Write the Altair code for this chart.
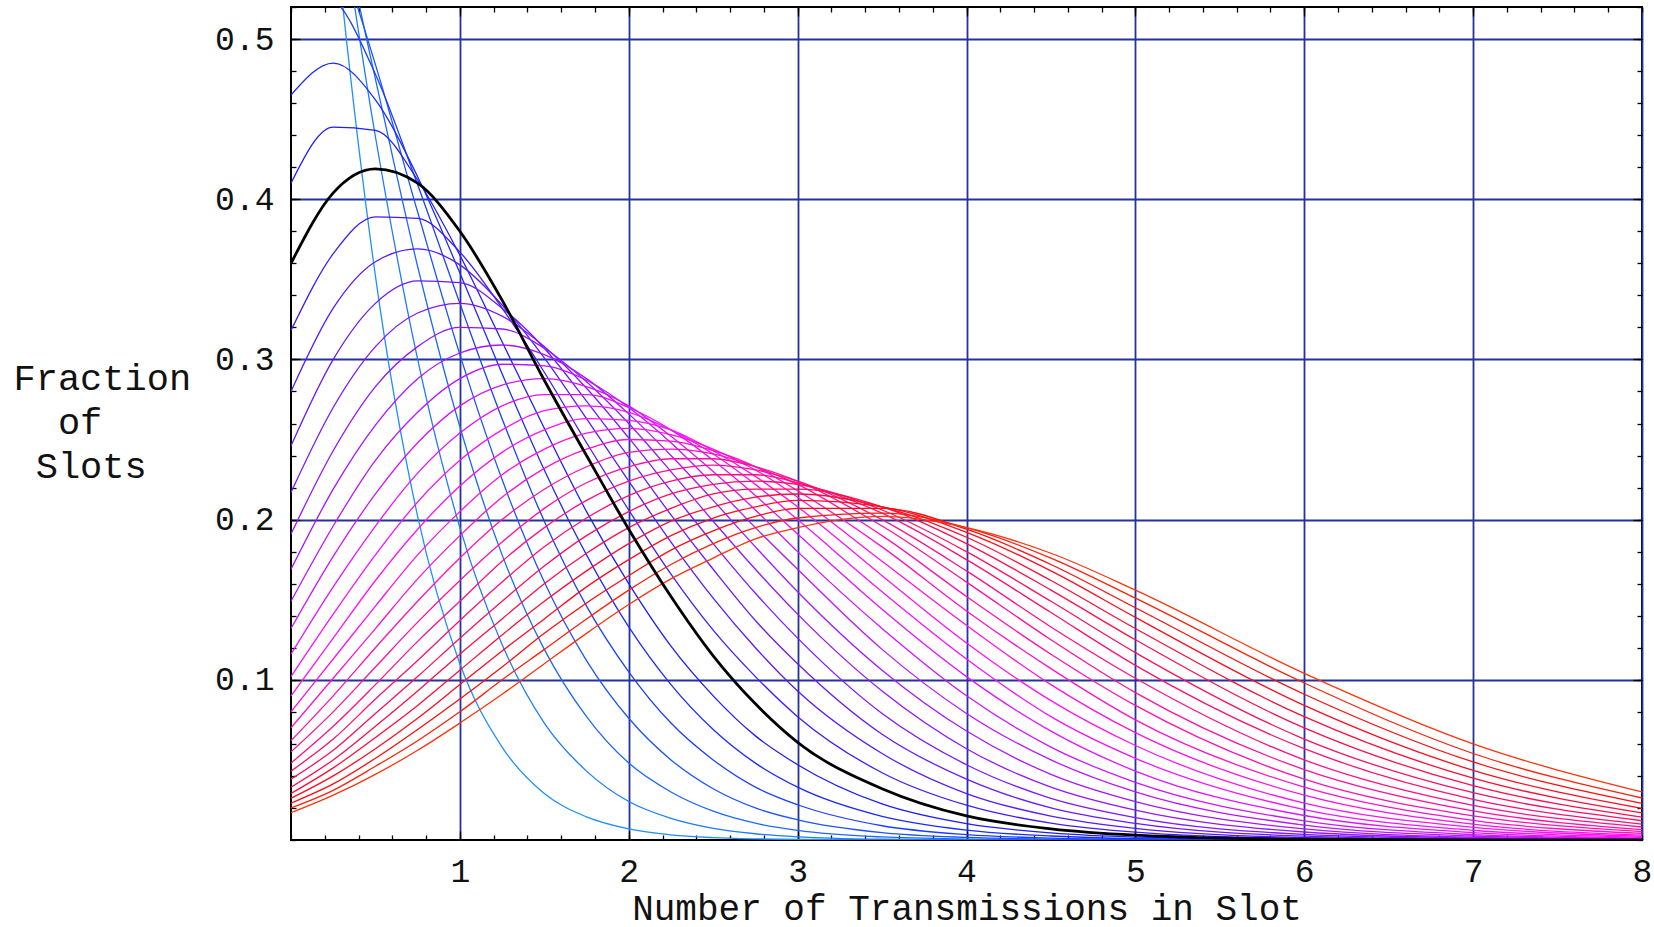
import altair as alt
import pandas as pd

# x positions at which the curves were read
x_values = [0, 0.25, 0.5, 0.75, 1, 1.25, 1.5, 1.75, 2, 2.25, 2.5, 2.75, 3, 3.5, 4, 4.5, 5, 6, 7, 8]

# mean number of transmissions per slot for each curve
lambdas = [0.125, 0.25, 0.375, 0.5, 0.625, 0.75, 0.875, 1.0,
           1.125, 1.25, 1.375, 1.5, 1.625, 1.75, 1.875, 2.0,
           2.125, 2.25, 2.375, 2.5, 2.625, 2.75, 2.875, 3.0,
           3.125, 3.25, 3.375, 3.5, 3.625, 3.75, 3.875, 4.0]

c_0125 = [0.883, 0.579, 0.352, 0.202, 0.110, 0.058, 0.029, 0.0144, 0.0069, 0.0032, 0.0015, 0.0007, 0.0003, 0.0001, 0, 0, 0, 0, 0, 0]
c_0250 = [0.779, 0.608, 0.439, 0.300, 0.195, 0.122, 0.073, 0.043, 0.024, 0.0135, 0.0073, 0.0039, 0.0020, 0.0005, 0.0001, 0, 0, 0, 0, 0]
c_0375 = [0.687, 0.593, 0.475, 0.358, 0.258, 0.178, 0.119, 0.077, 0.048, 0.030, 0.018, 0.0105, 0.0060, 0.0019, 0.0006, 0.0002, 0, 0, 0, 0]
c_0500 = [0.607, 0.563, 0.484, 0.392, 0.303, 0.225, 0.161, 0.112, 0.076, 0.050, 0.032, 0.020, 0.0126, 0.0046, 0.0016, 0.0005, 0.0002, 0, 0, 0]
c_0625 = [0.535, 0.525, 0.478, 0.409, 0.335, 0.263, 0.199, 0.146, 0.105, 0.073, 0.050, 0.033, 0.022, 0.0089, 0.0034, 0.0012, 0.0004, 0, 0, 0]
c_0750 = [0.465, 0.485, 0.462, 0.414, 0.354, 0.291, 0.231, 0.178, 0.133, 0.097, 0.069, 0.048, 0.033, 0.0148, 0.0062, 0.0025, 0.0009, 0.0001, 0, 0]
c_0875 = [0.410, 0.445, 0.443, 0.412, 0.365, 0.311, 0.257, 0.205, 0.160, 0.121, 0.090, 0.065, 0.047, 0.0225, 0.0102, 0.0044, 0.0018, 0.0003, 0, 0]
c_1000 = [0.360, 0.404, 0.419, 0.410, 0.380, 0.337, 0.287, 0.240, 0.194, 0.152, 0.115, 0.085, 0.061, 0.032, 0.0150, 0.0070, 0.0031, 0.0005, 0.0001, 0]
c_1125 = [0.318, 0.366, 0.389, 0.388, 0.367, 0.332, 0.292, 0.248, 0.206, 0.166, 0.131, 0.102, 0.077, 0.042, 0.0217, 0.0105, 0.0049, 0.0009, 0.0001, 0]
c_1250 = [0.280, 0.332, 0.361, 0.369, 0.359, 0.334, 0.301, 0.263, 0.224, 0.186, 0.151, 0.120, 0.093, 0.054, 0.029, 0.0149, 0.0073, 0.0015, 0.0003, 0]
c_1375 = [0.246, 0.300, 0.335, 0.349, 0.348, 0.332, 0.307, 0.274, 0.239, 0.203, 0.169, 0.137, 0.110, 0.066, 0.038, 0.020, 0.0104, 0.0024, 0.0005, 0.0001]
c_1500 = [0.217, 0.270, 0.308, 0.329, 0.335, 0.327, 0.308, 0.282, 0.251, 0.218, 0.185, 0.154, 0.126, 0.079, 0.047, 0.026, 0.014, 0.0035, 0.0008, 0.0001]
c_1625 = [0.191, 0.243, 0.283, 0.308, 0.320, 0.319, 0.307, 0.286, 0.260, 0.230, 0.199, 0.169, 0.141, 0.093, 0.057, 0.033, 0.0186, 0.0050, 0.0012, 0.0002]
c_1750 = [0.169, 0.219, 0.259, 0.288, 0.304, 0.309, 0.303, 0.288, 0.266, 0.240, 0.212, 0.183, 0.155, 0.106, 0.068, 0.041, 0.024, 0.0069, 0.0017, 0.0004]
c_1875 = [0.149, 0.196, 0.237, 0.267, 0.288, 0.297, 0.296, 0.287, 0.270, 0.248, 0.222, 0.195, 0.169, 0.119, 0.079, 0.050, 0.030, 0.0093, 0.0025, 0.0006]
c_2000 = [0.132, 0.177, 0.216, 0.248, 0.271, 0.284, 0.288, 0.283, 0.271, 0.252, 0.230, 0.206, 0.180, 0.132, 0.090, 0.058, 0.036, 0.012, 0.0034, 0.0009]
c_2125 = [0.116, 0.158, 0.196, 0.229, 0.254, 0.271, 0.278, 0.278, 0.270, 0.256, 0.237, 0.215, 0.191, 0.144, 0.102, 0.068, 0.043, 0.0153, 0.0046, 0.0012]
c_2250 = [0.102, 0.141, 0.178, 0.211, 0.237, 0.256, 0.268, 0.271, 0.267, 0.256, 0.241, 0.222, 0.200, 0.155, 0.113, 0.077, 0.051, 0.019, 0.0061, 0.0017]
c_2375 = [0.090, 0.126, 0.162, 0.194, 0.221, 0.242, 0.256, 0.263, 0.262, 0.256, 0.243, 0.227, 0.208, 0.165, 0.123, 0.087, 0.059, 0.023, 0.0079, 0.0023]
c_2500 = [0.080, 0.113, 0.146, 0.178, 0.205, 0.228, 0.244, 0.254, 0.257, 0.253, 0.244, 0.231, 0.214, 0.174, 0.134, 0.097, 0.067, 0.028, 0.0099, 0.0031]
c_2625 = [0.070, 0.101, 0.132, 0.163, 0.190, 0.214, 0.232, 0.244, 0.250, 0.249, 0.243, 0.233, 0.218, 0.183, 0.143, 0.107, 0.075, 0.033, 0.0123, 0.0041]
c_2750 = [0.062, 0.090, 0.120, 0.149, 0.176, 0.200, 0.219, 0.233, 0.242, 0.244, 0.241, 0.233, 0.222, 0.190, 0.152, 0.116, 0.084, 0.038, 0.0151, 0.0052]
c_2875 = [0.055, 0.080, 0.108, 0.136, 0.162, 0.186, 0.207, 0.223, 0.233, 0.238, 0.238, 0.233, 0.224, 0.196, 0.161, 0.125, 0.092, 0.044, 0.0182, 0.0065]
c_3000 = [0.048, 0.071, 0.097, 0.124, 0.149, 0.174, 0.195, 0.212, 0.224, 0.231, 0.234, 0.231, 0.224, 0.200, 0.168, 0.133, 0.101, 0.050, 0.0216, 0.0081]
c_3125 = [0.043, 0.063, 0.088, 0.112, 0.137, 0.161, 0.183, 0.201, 0.215, 0.224, 0.228, 0.228, 0.223, 0.204, 0.175, 0.142, 0.109, 0.057, 0.0254, 0.0099]
c_3250 = [0.038, 0.056, 0.079, 0.102, 0.126, 0.149, 0.171, 0.190, 0.205, 0.216, 0.222, 0.224, 0.222, 0.206, 0.180, 0.149, 0.117, 0.063, 0.0295, 0.0120]
c_3375 = [0.033, 0.050, 0.071, 0.093, 0.116, 0.138, 0.160, 0.179, 0.195, 0.207, 0.216, 0.219, 0.219, 0.208, 0.185, 0.156, 0.125, 0.070, 0.0339, 0.0143]
c_3500 = [0.029, 0.045, 0.064, 0.084, 0.106, 0.128, 0.149, 0.168, 0.185, 0.199, 0.208, 0.214, 0.216, 0.208, 0.189, 0.162, 0.132, 0.077, 0.0386, 0.0169]
c_3625 = [0.026, 0.040, 0.057, 0.076, 0.097, 0.118, 0.138, 0.158, 0.175, 0.190, 0.201, 0.208, 0.212, 0.208, 0.192, 0.168, 0.139, 0.084, 0.0435, 0.0197]
c_3750 = [0.023, 0.035, 0.051, 0.069, 0.088, 0.108, 0.129, 0.148, 0.165, 0.181, 0.193, 0.202, 0.207, 0.207, 0.194, 0.172, 0.145, 0.091, 0.0487, 0.0228]
c_3875 = [0.020, 0.031, 0.046, 0.062, 0.080, 0.100, 0.119, 0.138, 0.156, 0.172, 0.185, 0.195, 0.201, 0.204, 0.195, 0.176, 0.151, 0.098, 0.054, 0.0262]
c_4000 = [0.017, 0.028, 0.041, 0.056, 0.073, 0.091, 0.110, 0.129, 0.147, 0.163, 0.176, 0.188, 0.195, 0.202, 0.195, 0.179, 0.156, 0.104, 0.060, 0.030]

curves = [c_0125, c_0250, c_0375, c_0500, c_0625, c_0750, c_0875, c_1000,
          c_1125, c_1250, c_1375, c_1500, c_1625, c_1750, c_1875, c_2000,
          c_2125, c_2250, c_2375, c_2500, c_2625, c_2750, c_2875, c_3000,
          c_3125, c_3250, c_3375, c_3500, c_3625, c_3750, c_3875, c_4000]

x_tick_labels = [1, 2, 3, 4, 5, 6, 7, 8]
y_tick_labels = [0.1, 0.2, 0.3, 0.4, 0.5]
highlight_lambda = 1.0

rows = []
for lam, vals in zip(lambdas, curves):
    for xv, yv in zip(x_values, vals):
        rows.append({"x": xv, "y": yv, "lam": lam})
df = pd.DataFrame(rows)
df_col = df[df["lam"] != highlight_lambda]
df_blk = df[df["lam"] == highlight_lambda]

FONT = "Liberation Mono"
TXT = "#111111"
GRID = "#24339A"
FS = 33
TFS = 36

xs = alt.Scale(domain=[0, 8], nice=False, zero=False)
ys = alt.Scale(domain=[0, 0.52], nice=False, zero=False)


def axis_layer(xaxis, yaxis):
    return alt.Chart(df_blk).mark_line(strokeOpacity=0).encode(
        x=alt.X("x:Q", scale=xs, axis=xaxis),
        y=alt.Y("y:Q", scale=ys, axis=yaxis),
    )


def tick_axis(orient, size, values=None, count=None):
    kw = dict(orient=orient, labels=False, grid=False, domain=False, ticks=True,
              tickSize=size, tickColor="black", tickWidth=1.3, offset=-size, title=None)
    if values is not None:
        kw["values"] = values
    if count is not None:
        kw["tickCount"] = count
    return alt.Axis(**kw)


x_main = alt.Axis(orient="bottom", values=x_tick_labels, format="d", grid=True, gridColor=GRID,
                  gridWidth=1.8, gridOpacity=1, ticks=False, domain=False,
                  labelFont=FONT, labelFontSize=FS, labelColor=TXT, labelPadding=15,
                  labelFlush=False, labelOverlap=False,
                  title="Number of Transmissions in Slot", titleFont=FONT, titleFontSize=TFS,
                  titleFontWeight="normal", titleColor=TXT, titleY=79,
                  titleBaseline="alphabetic")
y_main = alt.Axis(orient="left", values=y_tick_labels, format=".1f", grid=True, gridColor=GRID,
                  gridWidth=1.8, gridOpacity=1, ticks=False, domain=False,
                  labelFont=FONT, labelFontSize=FS, labelColor=TXT, labelPadding=17,
                  labelFlush=False, labelOverlap=False,
                  title=["Fraction", "\u200b\u00a0\u00a0of", "\u200b\u00a0Slots"], titleFont=FONT,
                  titleFontSize=37, titleFontWeight="normal", titleColor=TXT, titleAngle=0,
                  titleAlign="left", titleX=-278, titleY=382, titleBaseline="alphabetic",
                  titleLineHeight=44)

major_x = [1, 2, 3, 4, 5, 6, 7]
major_y = [0.1, 0.2, 0.3, 0.4, 0.5]

layers = [
    axis_layer(x_main, y_main),
    axis_layer(tick_axis("bottom", 5, count=40), tick_axis("left", 5, count=26)),
    axis_layer(tick_axis("bottom", 9, values=major_x), tick_axis("left", 9, values=major_y)),
    axis_layer(tick_axis("top", 5, count=40), tick_axis("right", 5, count=26)),
    axis_layer(tick_axis("top", 9, values=major_x), tick_axis("right", 9, values=major_y)),
]

colored = alt.Chart(df_col).mark_line(strokeWidth=1.3, clip=True, interpolate="monotone").encode(
    x=alt.X("x:Q", scale=xs, axis=None),
    y=alt.Y("y:Q", scale=ys, axis=None),
    color=alt.Color("lam:Q", legend=None,
                    scale=alt.Scale(domain=[0.125, 4.0],
                                    range=["hsl(210,100%,56%)", "hsl(10,100%,52%)"],
                                    interpolate="hsl")),
    detail="lam:N",
)

black = alt.Chart(df_blk).mark_line(strokeWidth=2.8, clip=True, interpolate="monotone",
                                    color="black").encode(
    x=alt.X("x:Q", scale=xs, axis=None),
    y=alt.Y("y:Q", scale=ys, axis=None),
)

chart = alt.layer(*layers, colored, black).resolve_axis(
    x="independent", y="independent"
).properties(
    width=1351, height=833,
    padding={"left": 291, "top": 7, "right": 12, "bottom": 87},
    autosize=alt.AutoSizeParams(type="none"),
    background="white",
).configure_view(stroke="black", strokeWidth=2)

chart.save("out.html", embed_options={"renderer": "svg", "actions": False})
